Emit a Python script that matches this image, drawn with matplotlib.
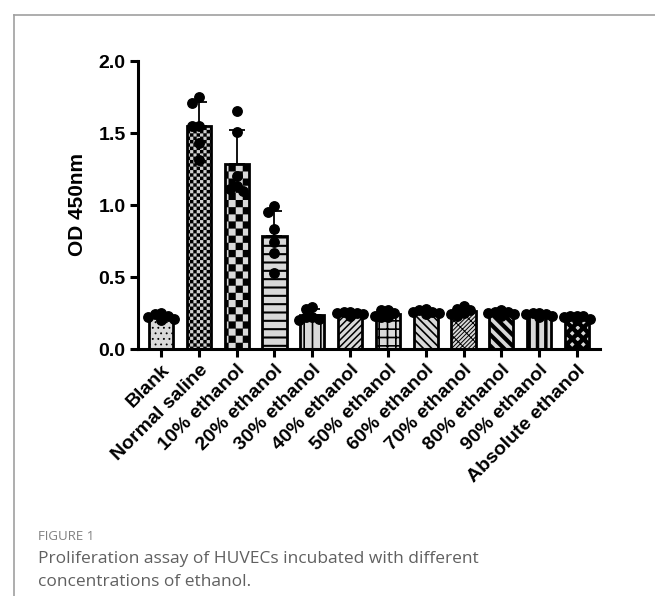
import numpy as np
import matplotlib
matplotlib.use("Agg")
import matplotlib.pyplot as plt
from matplotlib.path import Path
from matplotlib import hatch as mhatch
from matplotlib.lines import Line2D
import warnings
warnings.filterwarnings("ignore")

# ---------------- data ----------------
categories = ["Blank", "Normal saline", "10% ethanol", "20% ethanol", "30% ethanol",
              "40% ethanol", "50% ethanol", "60% ethanol", "70% ethanol",
              "80% ethanol", "90% ethanol", "Absolute ethanol"]
blank = [0.24, 0.25, 0.22, 0.20, 0.21, 0.23]
normal_saline = [1.71, 1.75, 1.55, 1.55, 1.43, 1.31]
eth10 = [1.65, 1.51, 1.20, 1.13, 1.10, 1.11]
eth20 = [0.95, 0.99, 0.83, 0.74, 0.67, 0.53]
eth30 = [0.28, 0.29, 0.22, 0.21, 0.20, 0.22]
eth40 = [0.25, 0.26, 0.26, 0.25, 0.23, 0.24]
eth50 = [0.27, 0.22, 0.25, 0.27, 0.23, 0.22]
eth60 = [0.28, 0.27, 0.26, 0.25, 0.26, 0.24]
eth70 = [0.30, 0.28, 0.25, 0.24, 0.27, 0.23]
eth80 = [0.27, 0.26, 0.26, 0.25, 0.24, 0.23]
eth90 = [0.25, 0.25, 0.24, 0.24, 0.23, 0.22]
eth_abs = [0.23, 0.23, 0.22, 0.23, 0.21, 0.20]
groups = [blank, normal_saline, eth10, eth20, eth30, eth40, eth50, eth60,
          eth70, eth80, eth90, eth_abs]
y_ticks = [0.0, 0.5, 1.0, 1.5, 2.0]
y_label = "OD 450nm"
caption_head = "FIGURE 1"
caption_text = "Proliferation assay of HUVECs incubated with different\nconcentrations of ethanol."


# ---------------- custom checkerboard hatch ----------------
class CheckerHatch(mhatch.HatchPatternBase):
    filled = True

    def __init__(self, hatch, density):
        self.n = int(hatch.count('c') * 2)
        self.num_vertices = (self.n * self.n // 2) * 5 if self.n else 0

    def set_vertices_and_codes(self, vertices, codes):
        s = 1.0 / self.n
        k = 0
        for i in range(self.n):
            for j in range(self.n):
                if (i + j) % 2 == 0:
                    x0, y0 = i * s, j * s
                    vertices[k:k + 5] = [[x0, y0], [x0 + s, y0], [x0 + s, y0 + s],
                                         [x0, y0 + s], [x0, y0]]
                    codes[k:k + 5] = [Path.MOVETO, Path.LINETO, Path.LINETO,
                                      Path.LINETO, Path.CLOSEPOLY]
                    k += 5


if CheckerHatch not in mhatch._hatch_types:
    mhatch._hatch_types.append(CheckerHatch)

# hatch, facecolor, hatch linewidth
styles = [
    ("...", "#d9d9d9", 0.6),
    ("c" * 15, "#cfcfcf", 0.1),
    ("c" * 7, "#d9d9d9", 0.1),
    ("--", "#d9d9d9", 1.5),
    ("||", "#d9d9d9", 1.2),
    ("/////", "#d9d9d9", 1.1),
    ("++", "#d9d9d9", 1.2),
    ("\\" * 4, "#d9d9d9", 1.2),
    ("////////\\\\", "#d9d9d9", 0.7),
    ("\\\\\\", "#d9d9d9", 3.0),
    ("||", "#d9d9d9", 2.5),
    ("xxx", "#d9d9d9", 3.2),
]

plt.rcParams['font.family'] = ['Liberation Sans', 'DejaVu Sans']

fig = plt.figure(figsize=(6.55, 5.96), dpi=100)
ax = fig.add_axes([138 / 655, 1 - 349 / 596, (600 - 138) / 655, (349 - 61) / 596])

x = np.arange(len(categories))
means = [np.mean(g) for g in groups]
sds = [np.std(g, ddof=1) for g in groups]

for i, (m, (h, fc, hlw)) in enumerate(zip(means, styles)):
    with plt.rc_context({'hatch.linewidth': hlw, 'hatch.color': 'black'}):
        b = ax.bar(x[i], m, width=0.64, color=fc, edgecolor='black', linewidth=2.0,
                   hatch=h, zorder=2)
        for p in b.patches:
            if hasattr(p, 'set_hatch_linewidth'):
                p.set_hatch_linewidth(hlw)

# error bars (upper SD only)
ax.errorbar(x, means, yerr=[np.zeros(len(x)), sds], fmt='none', ecolor='black',
            elinewidth=1.3, capsize=6, capthick=1.3, zorder=3)

# pixel scales of the axes (for the point swarm)
xlim = (-0.61, 11.61)
ylim = (0, 2.0)
px_x = 462 / (xlim[1] - xlim[0])
px_y = 288 / (ylim[1] - ylim[0])


def swarm(vals, step_px=6.5, min_px=6.0, max_steps=2):
    order = np.argsort(vals)[::-1]
    placed = []
    offs = np.zeros(len(vals))
    cands = [0.0]
    for k in range(1, max_steps + 1):
        cands += [-k * step_px, k * step_px]
    for idx in order:
        best = None
        bestd = -1
        fallback = 0.0
        for c in cands:
            d = min([np.hypot(px - c, (py - vals[idx]) * px_y) for (px, py) in placed],
                    default=1e9)
            if d >= min_px:
                best = c
                break
            if d > bestd:
                bestd = d
                fallback = c
        if best is None:
            best = fallback
        offs[idx] = best / px_x
        placed.append((best, vals[idx]))
    return offs


for i, g in enumerate(groups):
    g = np.asarray(g)
    ax.plot(x[i] + swarm(g), g, 'o', color='black', markersize=6.8, zorder=4,
            clip_on=False)

ax.set_xlim(*xlim)
ax.set_ylim(*ylim)
ax.set_yticks(y_ticks)
ax.set_yticklabels([f"{t:.1f}" for t in y_ticks], fontsize=14, fontweight='bold')
ax.set_xticks(x)
ax.set_xticklabels(categories, rotation=45, ha='right', rotation_mode='anchor',
                   fontsize=14, fontweight='bold')
ax.set_ylabel(y_label, fontsize=15, fontweight='bold', labelpad=8)
for s in ['top', 'right']:
    ax.spines[s].set_visible(False)
for s in ['left', 'bottom']:
    ax.spines[s].set_linewidth(2.2)
ax.tick_params(axis='both', width=2.2, length=6, pad=3)

# frame lines
fig.add_artist(Line2D([14 / 655, 14 / 655], [0, 1 - 15 / 596], color='#a0a0a0',
                      lw=1.2, transform=fig.transFigure))
fig.add_artist(Line2D([14 / 655, 1], [1 - 15 / 596, 1 - 15 / 596], color='#a0a0a0',
                      lw=1.2, transform=fig.transFigure))

fig.text(38 / 655, 1 - 536 / 596, caption_head, fontsize=9.5, color='#808080',
         family=['Open Sans', 'DejaVu Sans'], va='center')
fig.text(38 / 655, 1 - 551 / 596, caption_text, fontsize=12.5, color='#606060',
         family=['Open Sans', 'DejaVu Sans'], va='top', linespacing=1.55)

fig.savefig("out.png", dpi=100)
